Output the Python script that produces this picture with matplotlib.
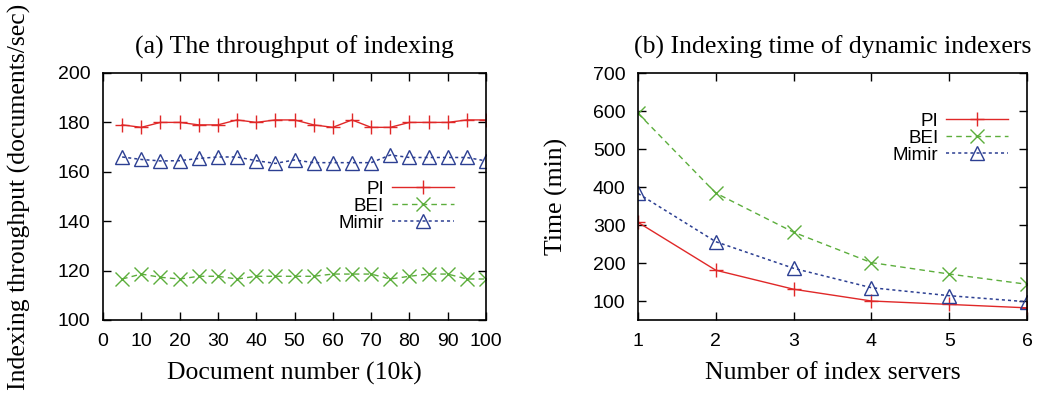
import matplotlib
matplotlib.use('Agg')
import matplotlib.pyplot as plt

# %% data, panel (a): throughput vs document number
doc_num = [5, 10, 15, 20, 25, 30, 35, 40, 45, 50, 55, 60, 65, 70, 75, 80, 85, 90, 95, 100]
pi_tp = [179, 178, 180, 180, 179, 179, 181, 180, 181, 181, 179, 178, 181, 178, 178, 180, 180, 180, 181, 181]
bei_tp = [116.6, 118.6, 117.3, 116.6, 117.7, 117.7, 116.6, 117.7, 117.7, 117.7,
          117.7, 118.6, 118.6, 118.6, 116.6, 117.7, 118.6, 118.6, 116.6, 116.6]
mimir_tp = [166, 165, 164.4, 164.5, 165.4, 166, 166, 164.5, 163.4, 164.8,
            163.7, 163.7, 163.7, 163.7, 166.8, 165.8, 165.8, 165.8, 165.8, 164.4]

# %% data, panel (b): indexing time vs number of servers
servers = [1, 2, 3, 4, 5, 6]
pi_time = [307, 181, 131, 100, 91, 82]
bei_time = [594, 384, 281, 201, 171, 144]
mimir_time = [383, 256, 186, 135, 114, 98]

red = '#e02828'
green = '#5cae3c'
blue = '#2c3f92'

serif = ['Liberation Serif', 'DejaVu Serif']
sans = ['Liberation Sans', 'DejaVu Sans']
plt.rcParams['font.family'] = sans
plt.rcParams['xtick.direction'] = 'in'
plt.rcParams['ytick.direction'] = 'in'
plt.rcParams['xtick.top'] = True
plt.rcParams['ytick.right'] = True

fig = plt.figure(figsize=(10.41, 4.07), dpi=100)
W, H = 1041.0, 407.0
ax1 = fig.add_axes([103 / W, 1 - 320 / H, 383 / W, 247 / H])
ax2 = fig.add_axes([638 / W, 1 - 320 / H, 389 / W, 247 / H])

ms = 10
dash_bei = (0, (4, 3))
dot_mimir = (0, (2, 2))
leg_kw = dict(loc='upper right', frameon=False, markerfirst=False, fontsize=13.5,
              handlelength=3.3, labelspacing=0, handletextpad=0.4, borderaxespad=0)
lab_kw = dict(family=serif, fontsize=18.5)

ax1.plot(doc_num, pi_tp, '-', marker='+', color=red, lw=1, ms=ms, mew=1, label='PI')
ax1.plot(doc_num, bei_tp, ls=dash_bei, marker='x', color=green, lw=1, ms=ms, mew=1, label='BEI')
ax1.plot(doc_num, mimir_tp, ls=dot_mimir, marker='^', color=blue, lw=1.1, ms=ms, mew=1,
         mfc='none', label='Mimir')
ax1.set_xlim(0, 100)
ax1.set_ylim(100, 200)
ax1.set_xticks(range(0, 101, 10))
ax1.set_yticks(range(100, 201, 20))
ax1.set_title('(a) The throughput of indexing', pad=14, **lab_kw)
ax1.set_xlabel('Document number (10k)', labelpad=9, **lab_kw)
ax1.set_ylabel('Indexing throughput (documents/sec)', labelpad=19, **lab_kw)
ax1.legend(bbox_to_anchor=(0.935, 0.595), **leg_kw)

ax2.plot(servers, pi_time, '-', marker='+', color=red, lw=1, ms=ms, mew=1, label='PI')
ax2.plot(servers, bei_time, ls=dash_bei, marker='x', color=green, lw=1, ms=ms, mew=1, label='BEI')
ax2.plot(servers, mimir_time, ls=dot_mimir, marker='^', color=blue, lw=1.1, ms=ms, mew=1,
         mfc='none', label='Mimir')
ax2.set_xlim(1, 6)
ax2.set_ylim(50, 700)
ax2.set_xticks(servers)
ax2.set_yticks(range(100, 701, 100))
ax2.set_title('(b) Indexing time of dynamic indexers', pad=14, **lab_kw)
ax2.set_xlabel('Number of index servers', labelpad=9, **lab_kw)
ax2.set_ylabel('Time (min)', labelpad=18, **lab_kw)
ax2.legend(bbox_to_anchor=(0.97, 0.87), **leg_kw)

for ax in (ax1, ax2):
    ax.tick_params(labelsize=14, length=6, width=1, pad=9)
    for s in ax.spines.values():
        s.set_linewidth(1.2)

fig.savefig('out.png', dpi=100)
